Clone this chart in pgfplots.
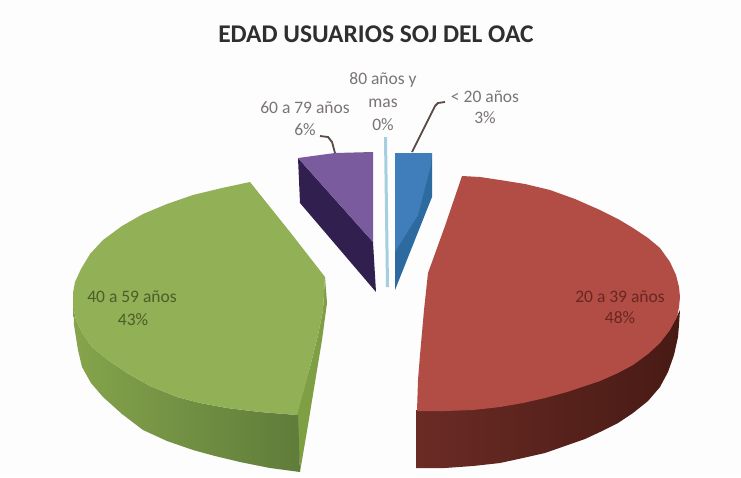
\documentclass[border=0pt]{standalone}
\usepackage{pgfplots}
\pgfplotsset{compat=1.18}
\usepackage{fontspec}
\setmainfont{Carlito}
\definecolor{bg}{HTML}{FDFDFE}
\definecolor{redtop}{HTML}{B24D45}
\definecolor{redL}{HTML}{6B2B25}
\definecolor{redR}{HTML}{481A14}
\definecolor{greentop}{HTML}{92B055}
\definecolor{greenL}{HTML}{85A44B}
\definecolor{greenR}{HTML}{5F7C3A}
\definecolor{greenside}{HTML}{7F9F45}
\definecolor{purptop}{HTML}{7A5C9E}
\definecolor{purpside}{HTML}{31204F}
\definecolor{bluetop}{HTML}{3F7EBA}
\definecolor{blueside}{HTML}{2C6A9F}
\definecolor{sliver}{HTML}{A5CFDF}
\definecolor{lab}{HTML}{7A7472}
\definecolor{leader}{HTML}{5A4A45}
\definecolor{ttl}{HTML}{302E2E}
\definecolor{redlab}{HTML}{6A2622}
\definecolor{greenlab}{HTML}{4C5C2A}
\begin{document}
\begin{tikzpicture}
\begin{axis}[
  scale only axis, width=741pt, height=477pt,
  xmin=0, xmax=741, ymin=0, ymax=477, y dir=reverse,
  hide axis, clip=true, no markers,
]
% background
\addplot[fill=bg, draw=none] coordinates {(0,0)(741,0)(741,477)(0,477)} -- cycle;
% red side
\addplot[draw=none, left color=redL, right color=redR] coordinates {
 (416,410)(445,410)(473,409)(500,406)(523,402)(545,397)(567,391)(585,385)(600,380)(618,372)(633,364)(648,353)(660,342)(670,329)(677,316)
 (680,310)(679,325)(678,337)(674,355)(668,372)(660,387)(648,401)(633,413)(618,423)(600,432)(585,439)(565,446)(545,453)(523,458)(500,463)(473,466)(445,468)(416,468)} -- cycle;
% red top
\addplot[fill=redtop, draw=none] coordinates {
 (417,411)(418,380)(420,355)(424,310)(428,273)(445,226)(462,176)(480,177)(500,180)(525,184)(550,190)(575,199)(600,210)(618,219)(633,228)(648,238)(660,248)(670,262)(676,275)(679,287)(680,297)(679,307)(677,317)
 (670,330)(660,343)(648,354)(633,365)(618,373)(600,381)(585,386)(567,392)(545,398)(523,403)(500,407)(473,410)(445,411)} -- cycle;
% green side
\addplot[draw=none, fill=greenside] coordinates {
 (297,414)(303,390)(310,367)(318,335)(323,310)(325,277)(327,303)(322,340)(317,370)(308,425)(300,472)} -- cycle;
\addplot[draw=none, left color=greenL, right color=greenR] coordinates {
 (73,293)(73,305)(76,320)(83,334)(92,347)(108,360)(127,373)(150,386)(177,397)(200,403)(227,408)(260,412)(298,415)
 (300,472)(270,468)(240,462)(215,456)(193,450)(167,441)(143,430)(122,414)(103,397)(91,383)(82,367)(78,350)(74,325)} -- cycle;
% green top
\addplot[fill=greentop, draw=none] coordinates {
 (250,182)(222,188)(193,195)(167,204)(143,214)(122,226)(103,240)(90,254)(81,269)(75,282)(73,293)(73,305)(76,320)(83,334)(92,347)(108,360)(127,373)(150,386)(177,397)(200,403)(227,408)(260,412)(297,415)
 (304,390)(310,367)(318,335)(323,310)(325,277)(290,232)} -- cycle;
% purple
\addplot[fill=purpside, draw=none] coordinates {(298,158)(373,242)(376,292)(300,203)} -- cycle;
\addplot[fill=purptop, draw=none] coordinates {(298,158)(335,153)(373,152)(373,242)} -- cycle;
% sliver
\addplot[fill=sliver, draw=none] coordinates {(384,137)(387,137)(389,287)(386,287)} -- cycle;
% blue
\addplot[fill=blueside, draw=none] coordinates {(395,153)(432,153)(432,197)(395,290)} -- cycle;
\addplot[fill=bluetop, draw=none] coordinates {(395,153)(432,153)(431,165)(418,215)(395,252)} -- cycle;
% leaders
\addplot[draw=leader, line width=1.8pt] coordinates {(320,136)(328,137)(332,142)(335,153)};
\addplot[draw=leader, line width=1.8pt] coordinates {(412,152)(435,106)(438,103)(445,102)};
% title
\node[text=ttl, font=\fontsize{25.5}{30}\selectfont\bfseries] at (axis cs:376,34) {EDAD USUARIOS SOJ DEL OAC};
% labels
\tikzset{lbl/.style={text=lab, font=\fontsize{17.5}{20}\selectfont}}
\node[lbl] at (axis cs:383,80) {80 años y};
\node[lbl] at (axis cs:383,103) {mas};
\node[lbl] at (axis cs:383,125) {0\%};
\node[lbl] at (axis cs:305,108) {60 a 79 años};
\node[lbl] at (axis cs:305,130) {6\%};
\node[lbl] at (axis cs:485,97) {< 20 años};
\node[lbl] at (axis cs:485,118) {3\%};
\node[lbl, text=redlab] at (axis cs:620,297) {20 a 39 años};
\node[lbl, text=redlab] at (axis cs:620,318) {48\%};
\node[lbl, text=greenlab] at (axis cs:132,297) {40 a 59 años};
\node[lbl, text=greenlab] at (axis cs:133,320) {43\%};
\end{axis}
\end{tikzpicture}
\end{document}
